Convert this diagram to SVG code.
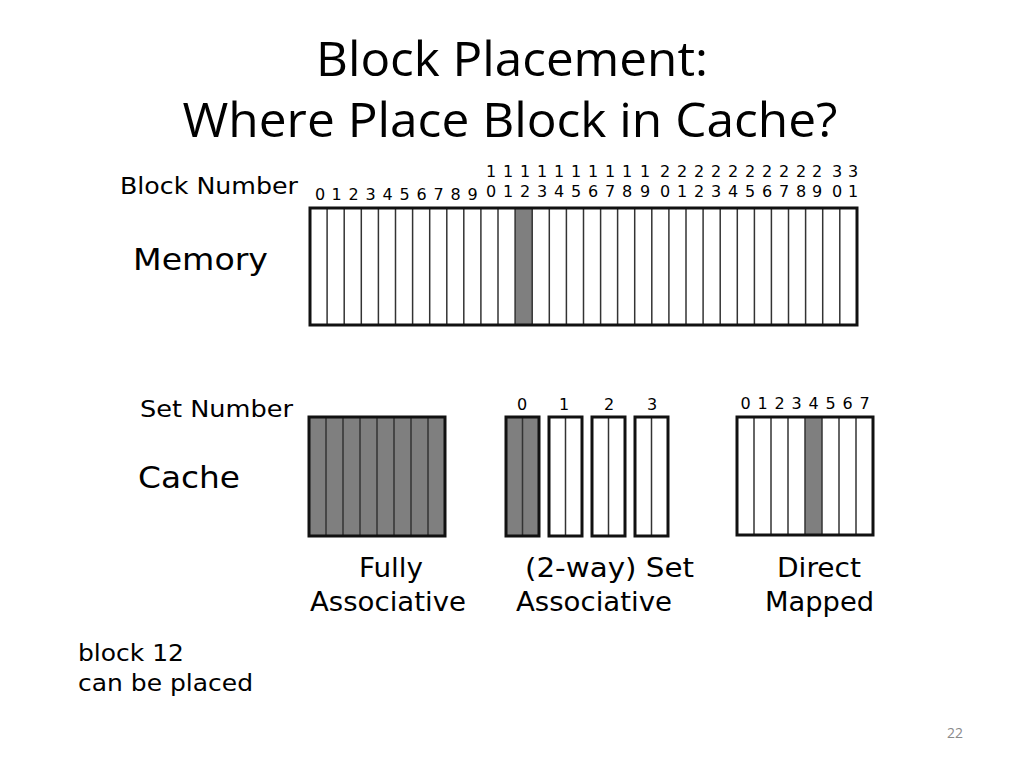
<svg xmlns="http://www.w3.org/2000/svg" width="1024" height="767" viewBox="0 0 1024 767">
<style>
.title{font-family:"Open Sans","Liberation Sans",sans-serif;font-size:47px;fill:#000}
.lbl{font-family:"DejaVu Sans","Liberation Sans",sans-serif;fill:#000}
.big{font-size:31px}
.mid{font-size:26px}
.sm{font-size:23px}
.dig{font-family:"DejaVu Sans","Liberation Sans",sans-serif;font-size:16px;fill:#000;text-anchor:middle}
.outer{fill:none;stroke:#111;stroke-width:3}
.inner{stroke:#333;stroke-width:1.5}
.hl{fill:#7f7f7f}
.wh{fill:#fff}
.pg{font-family:"Open Sans","Liberation Sans",sans-serif;font-size:14px;fill:#8a8a8a}
</style>
<rect width="1024" height="767" fill="#fff"/>
<g id="title">
<text class="title" x="512" y="76" text-anchor="middle" textLength="392" lengthAdjust="spacingAndGlyphs">Block Placement:</text>
<text class="title" x="510" y="137" text-anchor="middle" textLength="655" lengthAdjust="spacingAndGlyphs">Where Place Block in Cache?</text>
</g>
<g id="labels">
<text class="lbl sm" x="120" y="194" textLength="178" lengthAdjust="spacingAndGlyphs">Block Number</text>
<text class="lbl big" x="133" y="270" textLength="135" lengthAdjust="spacingAndGlyphs">Memory</text>
<text class="lbl sm" x="140" y="417" textLength="153" lengthAdjust="spacingAndGlyphs">Set Number</text>
<text class="lbl big" x="138" y="488" textLength="102" lengthAdjust="spacingAndGlyphs">Cache</text>
<text class="lbl mid" x="359" y="577" textLength="64" lengthAdjust="spacingAndGlyphs">Fully</text>
<text class="lbl mid" x="310" y="611" textLength="156" lengthAdjust="spacingAndGlyphs">Associative</text>
<text class="lbl mid" x="525" y="577" textLength="169" lengthAdjust="spacingAndGlyphs">(2-way) Set</text>
<text class="lbl mid" x="516" y="611" textLength="156" lengthAdjust="spacingAndGlyphs">Associative</text>
<text class="lbl mid" x="777" y="577" textLength="84" lengthAdjust="spacingAndGlyphs">Direct</text>
<text class="lbl mid" x="765" y="611" textLength="109" lengthAdjust="spacingAndGlyphs">Mapped</text>
<text class="lbl sm" x="78" y="661" textLength="106" lengthAdjust="spacingAndGlyphs">block 12</text>
<text class="lbl sm" x="78" y="691" textLength="175" lengthAdjust="spacingAndGlyphs">can be placed</text>
<text class="pg" x="947" y="738">22</text>
</g>
<g id="memory">
<rect class="wh" x="310" y="208" width="547" height="117"/>
<rect class="hl" x="515.1" y="208" width="17.1" height="117"/>
<g class="inner">
<line x1="327.1" y1="208" x2="327.1" y2="325"/><line x1="344.2" y1="208" x2="344.2" y2="325"/><line x1="361.3" y1="208" x2="361.3" y2="325"/><line x1="378.4" y1="208" x2="378.4" y2="325"/><line x1="395.5" y1="208" x2="395.5" y2="325"/><line x1="412.6" y1="208" x2="412.6" y2="325"/><line x1="429.7" y1="208" x2="429.7" y2="325"/><line x1="446.8" y1="208" x2="446.8" y2="325"/><line x1="463.8" y1="208" x2="463.8" y2="325"/><line x1="480.9" y1="208" x2="480.9" y2="325"/><line x1="498.0" y1="208" x2="498.0" y2="325"/><line x1="515.1" y1="208" x2="515.1" y2="325"/><line x1="532.2" y1="208" x2="532.2" y2="325"/><line x1="549.3" y1="208" x2="549.3" y2="325"/><line x1="566.4" y1="208" x2="566.4" y2="325"/><line x1="583.5" y1="208" x2="583.5" y2="325"/><line x1="600.6" y1="208" x2="600.6" y2="325"/><line x1="617.6" y1="208" x2="617.6" y2="325"/><line x1="634.7" y1="208" x2="634.7" y2="325"/><line x1="651.8" y1="208" x2="651.8" y2="325"/><line x1="668.9" y1="208" x2="668.9" y2="325"/><line x1="686.0" y1="208" x2="686.0" y2="325"/><line x1="703.1" y1="208" x2="703.1" y2="325"/><line x1="720.2" y1="208" x2="720.2" y2="325"/><line x1="737.3" y1="208" x2="737.3" y2="325"/><line x1="754.4" y1="208" x2="754.4" y2="325"/><line x1="771.4" y1="208" x2="771.4" y2="325"/><line x1="788.5" y1="208" x2="788.5" y2="325"/><line x1="805.6" y1="208" x2="805.6" y2="325"/><line x1="822.7" y1="208" x2="822.7" y2="325"/><line x1="839.8" y1="208" x2="839.8" y2="325"/>
</g>
<rect class="outer" x="310" y="208" width="547" height="117"/>
</g>
<g id="memory-numbers">
<text class="dig" x="320" y="200">0</text><text class="dig" x="336.5" y="200">1</text><text class="dig" x="353.5" y="200">2</text><text class="dig" x="370.5" y="200">3</text><text class="dig" x="387.5" y="200">4</text><text class="dig" x="404.5" y="200">5</text><text class="dig" x="421.5" y="200">6</text><text class="dig" x="438.5" y="200">7</text><text class="dig" x="455.5" y="200">8</text><text class="dig" x="472.5" y="200">9</text>
<text class="dig" x="491" y="177">1</text><text class="dig" x="491" y="197">0</text>
<text class="dig" x="508" y="177">1</text><text class="dig" x="508" y="197">1</text>
<text class="dig" x="525" y="177">1</text><text class="dig" x="525" y="197">2</text>
<text class="dig" x="542" y="177">1</text><text class="dig" x="542" y="197">3</text>
<text class="dig" x="559" y="177">1</text><text class="dig" x="559" y="197">4</text>
<text class="dig" x="576" y="177">1</text><text class="dig" x="576" y="197">5</text>
<text class="dig" x="593" y="177">1</text><text class="dig" x="593" y="197">6</text>
<text class="dig" x="610" y="177">1</text><text class="dig" x="610" y="197">7</text>
<text class="dig" x="627" y="177">1</text><text class="dig" x="627" y="197">8</text>
<text class="dig" x="645" y="177">1</text><text class="dig" x="645" y="197">9</text>
<text class="dig" x="665" y="177">2</text><text class="dig" x="665" y="197">0</text>
<text class="dig" x="682" y="177">2</text><text class="dig" x="682" y="197">1</text>
<text class="dig" x="699" y="177">2</text><text class="dig" x="699" y="197">2</text>
<text class="dig" x="716" y="177">2</text><text class="dig" x="716" y="197">3</text>
<text class="dig" x="733" y="177">2</text><text class="dig" x="733" y="197">4</text>
<text class="dig" x="750" y="177">2</text><text class="dig" x="750" y="197">5</text>
<text class="dig" x="767" y="177">2</text><text class="dig" x="767" y="197">6</text>
<text class="dig" x="784" y="177">2</text><text class="dig" x="784" y="197">7</text>
<text class="dig" x="801" y="177">2</text><text class="dig" x="801" y="197">8</text>
<text class="dig" x="817" y="177">2</text><text class="dig" x="817" y="197">9</text>
<text class="dig" x="837" y="177">3</text><text class="dig" x="837" y="197">0</text>
<text class="dig" x="853" y="177">3</text><text class="dig" x="853" y="197">1</text>
</g>
<g id="fully-associative">
<rect class="hl" x="309" y="417" width="136" height="119"/>
<g class="inner">
<line x1="326" y1="417" x2="326" y2="536"/><line x1="343" y1="417" x2="343" y2="536"/><line x1="360" y1="417" x2="360" y2="536"/><line x1="377" y1="417" x2="377" y2="536"/><line x1="394" y1="417" x2="394" y2="536"/><line x1="411" y1="417" x2="411" y2="536"/><line x1="428" y1="417" x2="428" y2="536"/>
</g>
<rect class="outer" x="309" y="417" width="136" height="119"/>
</g>
<g id="set-associative">
<rect class="hl" x="506" y="417" width="33" height="119"/>
<rect class="wh" x="549" y="417" width="33" height="119"/>
<rect class="wh" x="592" y="417" width="33" height="119"/>
<rect class="wh" x="635" y="417" width="33" height="119"/>
<g class="inner">
<line x1="522.5" y1="417" x2="522.5" y2="536"/><line x1="565.5" y1="417" x2="565.5" y2="536"/><line x1="608.5" y1="417" x2="608.5" y2="536"/><line x1="651.5" y1="417" x2="651.5" y2="536"/>
</g>
<rect class="outer" x="506" y="417" width="33" height="119"/>
<rect class="outer" x="549" y="417" width="33" height="119"/>
<rect class="outer" x="592" y="417" width="33" height="119"/>
<rect class="outer" x="635" y="417" width="33" height="119"/>
<text class="dig" x="522" y="410">0</text><text class="dig" x="564" y="410">1</text><text class="dig" x="609" y="410">2</text><text class="dig" x="652" y="410">3</text>
</g>
<g id="direct-mapped">
<rect class="wh" x="737" y="417" width="136" height="118"/>
<rect class="hl" x="805" y="417" width="17" height="118"/>
<g class="inner">
<line x1="754" y1="417" x2="754" y2="535"/><line x1="771" y1="417" x2="771" y2="535"/><line x1="788" y1="417" x2="788" y2="535"/><line x1="805" y1="417" x2="805" y2="535"/><line x1="822" y1="417" x2="822" y2="535"/><line x1="839" y1="417" x2="839" y2="535"/><line x1="856" y1="417" x2="856" y2="535"/>
</g>
<rect class="outer" x="737" y="417" width="136" height="118"/>
<text class="dig" x="745.5" y="409">0</text><text class="dig" x="762.5" y="409">1</text><text class="dig" x="779.5" y="409">2</text><text class="dig" x="796.5" y="409">3</text><text class="dig" x="813.5" y="409">4</text><text class="dig" x="830.5" y="409">5</text><text class="dig" x="847.5" y="409">6</text><text class="dig" x="864.5" y="409">7</text>
</g>
<g id="connectors"></g>
</svg>
